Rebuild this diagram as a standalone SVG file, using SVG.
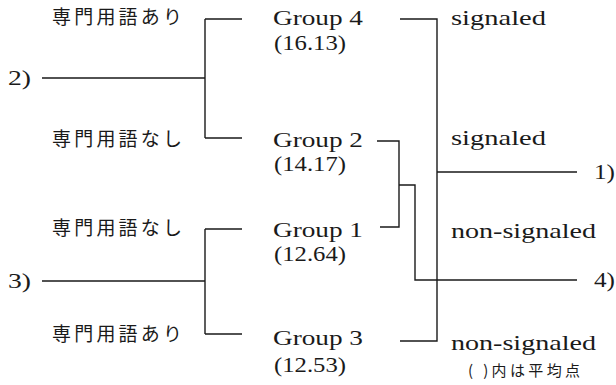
<svg xmlns="http://www.w3.org/2000/svg" width="616" height="385" viewBox="0 0 616 385">
<style>
.l{font-family:"Liberation Serif","Times New Roman",serif;font-size:21px;fill:#1a1a1a}
.j{font-family:"Noto Sans CJK JP",sans-serif;font-size:19px;fill:#1a1a1a}
.s{font-family:"Noto Sans CJK JP",sans-serif;font-size:15px;fill:#1a1a1a}
.c{fill:none;stroke:#1a1a1a;stroke-width:1.4}
</style>
<rect width="616" height="385" fill="#fff"/>
<g id="connectors">
<path class="c" d="M42 78H205M205 19V138M205 19H242M205 138H242"/>
<path class="c" d="M42 281H205M205 229V334M205 229H242M205 334H242"/>
<path class="c" d="M400 19H437V341H400M437 172H577"/>
<path class="c" d="M377 141H399V227H380M399 185H415V280H577"/>
</g>
<g id="n2"><text class="l" x="8" y="85" textLength="23" lengthAdjust="spacingAndGlyphs">2)</text></g>
<g id="n3"><text class="l" x="8" y="288" textLength="23" lengthAdjust="spacingAndGlyphs">3)</text></g>
<g id="n1"><text class="l" x="594" y="179" textLength="21" lengthAdjust="spacingAndGlyphs">1)</text></g>
<g id="n4"><text class="l" x="594" y="287" textLength="21" lengthAdjust="spacingAndGlyphs">4)</text></g>
<g id="t1"><text class="j" x="52" y="24" textLength="130">専門用語あり</text></g>
<g id="t2"><text class="j" x="52" y="146" textLength="130">専門用語なし</text></g>
<g id="t3"><text class="j" x="52" y="235" textLength="130">専門用語なし</text></g>
<g id="t4"><text class="j" x="52" y="341" textLength="130">専門用語あり</text></g>
<g id="g4"><text class="l" x="273" y="25" textLength="90" lengthAdjust="spacingAndGlyphs">Group 4</text><text class="l" x="274" y="50" textLength="72" lengthAdjust="spacingAndGlyphs">(16.13)</text></g>
<g id="g2"><text class="l" x="273" y="147" textLength="90" lengthAdjust="spacingAndGlyphs">Group 2</text><text class="l" x="274" y="171" textLength="72" lengthAdjust="spacingAndGlyphs">(14.17)</text></g>
<g id="g1"><text class="l" x="273" y="237" textLength="90" lengthAdjust="spacingAndGlyphs">Group 1</text><text class="l" x="274" y="261" textLength="72" lengthAdjust="spacingAndGlyphs">(12.64)</text></g>
<g id="g3"><text class="l" x="273" y="345" textLength="90" lengthAdjust="spacingAndGlyphs">Group 3</text><text class="l" x="274" y="372" textLength="72" lengthAdjust="spacingAndGlyphs">(12.53)</text></g>
<g id="r1"><text class="l" x="451" y="25" textLength="95" lengthAdjust="spacingAndGlyphs">signaled</text></g>
<g id="r2"><text class="l" x="451" y="145" textLength="95" lengthAdjust="spacingAndGlyphs">signaled</text></g>
<g id="r3"><text class="l" x="451" y="238" textLength="145" lengthAdjust="spacingAndGlyphs">non-signaled</text></g>
<g id="r4"><text class="l" x="451" y="350" textLength="145" lengthAdjust="spacingAndGlyphs">non-signaled</text></g>
<g id="note"><text class="s" x="468" y="376" textLength="112">(  )内は平均点</text></g>
</svg>
